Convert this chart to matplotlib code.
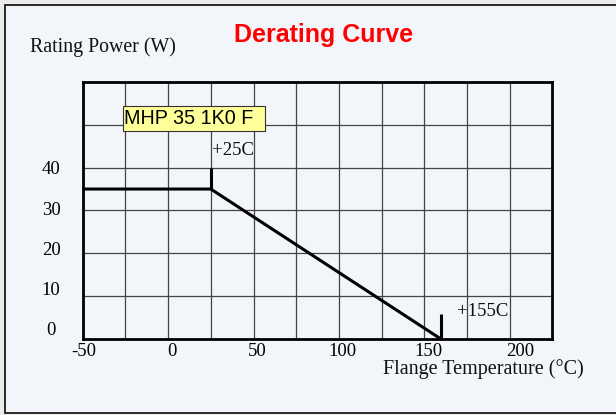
import matplotlib
matplotlib.use("Agg")
import matplotlib.pyplot as plt
import matplotlib.transforms as mtransforms
from matplotlib.patches import Rectangle
import numpy as np

# ---- data ----
curve_temp = [-50, 25, 160]
curve_power = [35, 35, 0]
marker_temp = [25, 160]
marker_base = [35, 0]
marker_top = [40, 6]
marker_labels = ["+25C", "+155C"]
marker_label_x = [25.5, 169]
marker_label_y = [44, 6.5]
x_ticks = [-50, 0, 50, 100, 150, 200]
x_tick_labels = ["-50", "0", "50", "100", "150", "200"]
y_ticks = [0, 10, 20, 30, 40]
y_tick_labels = ["0", "10", "20", "30", "40"]
part_name = "MHP 35 1K0 F"
title = "Derating Curve"
y_title = "Rating Power (W)"
x_title = "Flange Temperature (°C)"

# ---- styling: small pixel nudges of tick labels, as in the reference ----
x_label_shift_px = [1.5, 3.5, 3.5, 3.5, 4.5, 10]
y_label_shift_px = [11, 8.3, 5, 2, -0.4]
y_label_xshift_px = [-5, 0, 0, 0, 0]

W, H = 616, 415
fig = plt.figure(figsize=(W / 100, H / 100), dpi=100)
fig.patch.set_facecolor("#ECECEC")

def fx(px):
    return px / W

def fy(py):
    return 1 - py / H

# outer panel frame
frame = Rectangle((fx(5), fy(413)), fx(640) - fx(5), fy(5) - fy(413),
                  transform=fig.transFigure, facecolor="#F2F5FA",
                  edgecolor="#1a1a1a", lw=1.3, zorder=-10)
fig.add_artist(frame)

serif = ["Liberation Serif", "DejaVu Serif"]
sans = ["Liberation Sans", "DejaVu Sans"]

ax = fig.add_axes([fx(82.7), fy(339.3), fx(552.4) - fx(82.7), fy(81.7) - fy(339.3)])
ax.set_zorder(1)
ax.set_facecolor("#F2F5FA")
ax.set_xlim(-50, 225)
ax.set_ylim(0, 60)

# grid
for gx in np.arange(-50, 226, 25)[1:-1]:
    ax.axvline(gx, color="#444444", lw=0.9, zorder=1)
for gy in np.arange(0, 61, 10)[1:-1]:
    ax.axhline(gy, color="#444444", lw=0.9, zorder=1)

for s in ax.spines.values():
    s.set_linewidth(2.0)
    s.set_color("black")

ax.plot(curve_temp, curve_power, color="black", lw=2.2, zorder=3, clip_on=False,
        solid_capstyle="butt")
ax.vlines(marker_temp, marker_base, marker_top, color="black", lw=2.2, zorder=3)
for lx, ly, lt in zip(marker_label_x, marker_label_y, marker_labels):
    ax.text(lx, ly, lt, ha="left", va="center", fontsize=13.5, family=serif,
            color="#111111", zorder=4)

ax.set_xticks(x_ticks)
ax.set_xticklabels(x_tick_labels, family=serif, fontsize=13.5)
ax.set_yticks(y_ticks)
ax.set_yticklabels(y_tick_labels, family=serif, fontsize=13.5)
ax.tick_params(axis="both", length=0)
ax.tick_params(axis="x", pad=3)
ax.tick_params(axis="y", pad=16)
for lab, sh, shx in zip(ax.get_yticklabels(), y_label_shift_px, y_label_xshift_px):
    off = mtransforms.ScaledTranslation(shx / 100, sh / 100, fig.dpi_scale_trans)
    lab.set_transform(lab.get_transform() + off)
for lab, sh in zip(ax.get_xticklabels(), x_label_shift_px):
    off = mtransforms.ScaledTranslation(sh / 100, 0, fig.dpi_scale_trans)
    lab.set_transform(lab.get_transform() + off)

# part name box
box = Rectangle((fx(122.7), fy(131)), fx(265) - fx(122.7), fy(105.7) - fy(131),
                transform=fig.transFigure, facecolor="#FFFF99",
                edgecolor="#333333", lw=0.8, zorder=5)
fig.add_artist(box)
fig.text(fx(124), fy(118.5), part_name, ha="left", va="center", fontsize=14.2,
         family=sans, color="black", zorder=6)

fig.text(fx(324), fy(35), title, ha="center", va="center", fontsize=18,
         fontweight="bold", family=sans, color="#FF0000")
fig.text(fx(30.5), fy(47), y_title, ha="left", va="center", fontsize=14.3,
         family=serif, color="#111111")
fig.text(fx(583.5), fy(369), x_title, ha="right", va="center", fontsize=14.5,
         family=serif, color="#111111")

fig.savefig("out.png", dpi=100, facecolor=fig.get_facecolor())
